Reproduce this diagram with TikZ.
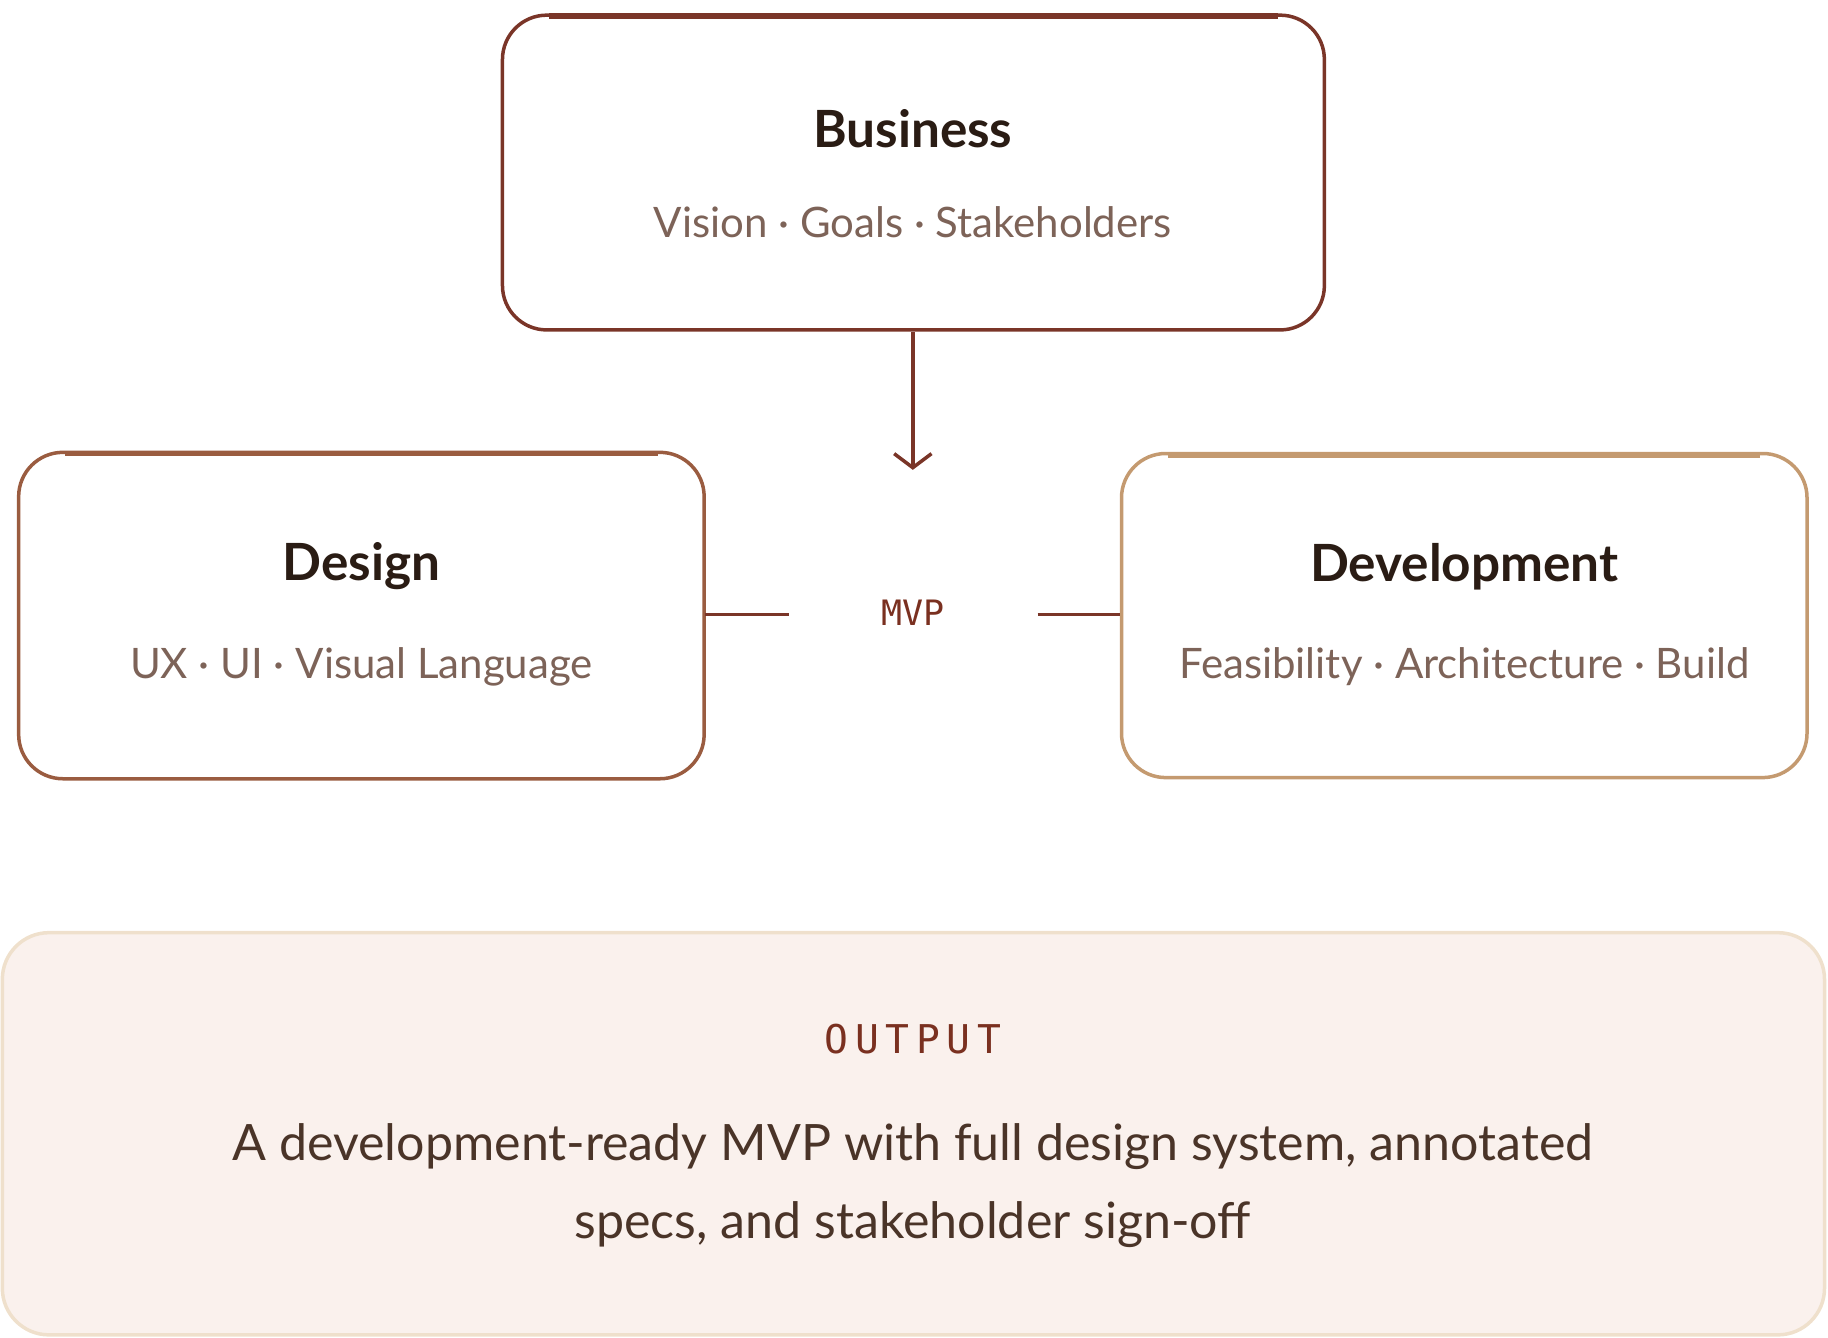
\documentclass[tikz,border=0pt]{standalone}
\usepackage{fontspec}
\setmainfont{Lato}
\setmonofont{DejaVu Sans Mono}
\usetikzlibrary{arrows.meta}
\definecolor{bizc}{HTML}{7A3528}
\definecolor{desc}{HTML}{9A5C40}
\definecolor{devc}{HTML}{C49A70}
\definecolor{titc}{HTML}{2A1C14}
\definecolor{subc}{HTML}{7D6358}
\definecolor{mvpc}{HTML}{7A3020}
\definecolor{outf}{HTML}{FAF1ED}
\definecolor{outd}{HTML}{EFE0CC}
\definecolor{bodyc}{HTML}{4A3428}
\tikzset{
 box/.style={draw, line width=3pt, rounded corners=38pt, fill=white},
 ttl/.style={text=titc, font=\fontsize{44}{52}\selectfont\bfseries},
 sub/.style={text=subc, font=\fontsize{36}{44}\selectfont},
 link/.style={draw=bizc, line width=3pt},
}
\begin{document}
\begin{tikzpicture}[x=1pt,y=-1pt]
\useasboundingbox (0,0) rectangle (1568,1147);
% output
\draw[fill=outf, draw=outd, line width=3pt, rounded corners=40pt] (2,800) rectangle (1565,1145);
\node[font=\ttfamily\fontsize{34}{40}\selectfont, text=mvpc] (otitle) at (783,891) {O\,U\,T\,P\,U\,T};
\node[text=bodyc, align=center, font=\fontsize{43}{67}\selectfont] (obody) at (783,1017) {A development-ready MVP with full design system, annotated\\specs, and stakeholder sign-off};
% boxes
\draw[box, draw=bizc] (431,13) rectangle (1136,283);
\draw[bizc, line width=5pt] (471,14) -- (1096,14);
\node[ttl] (biz) at (783,110) {Business};
\node[sub] (bizs) at (783,191) {Vision · Goals · Stakeholders};
\draw[box, draw=desc] (16,388) rectangle (604,668);
\draw[desc, line width=5pt] (56,389) -- (564,389);
\node[ttl] (des) at (310,486) {Design};
\node[sub] (dess) at (310,572) {UX · UI · Visual Language};
\draw[box, draw=devc] (962,389) rectangle (1550,667);
\draw[devc, line width=5pt] (1002,390) -- (1510,390);
\node[ttl] (dev) at (1256,486) {Development};
\node[sub] (devs) at (1256,572) {Feasibility · Architecture · Build};
% MVP
\node[font=\ttfamily\fontsize{30}{36}\selectfont, text=mvpc] (mvp) at (783,526) {MVP};
\coordinate (btop) at (783,285);
\coordinate (atip) at (783,403);
\draw[link, -{Straight Barb[length=12pt,width=32pt,line width=3pt]}] (btop) -- (atip);
\coordinate (l1) at (605,527); \coordinate (l2) at (677,527);
\coordinate (r1) at (890,527); \coordinate (r2) at (961,527);
\draw[link] (l1) -- (l2);
\draw[link] (r1) -- (r2);
\end{tikzpicture}
\end{document}
